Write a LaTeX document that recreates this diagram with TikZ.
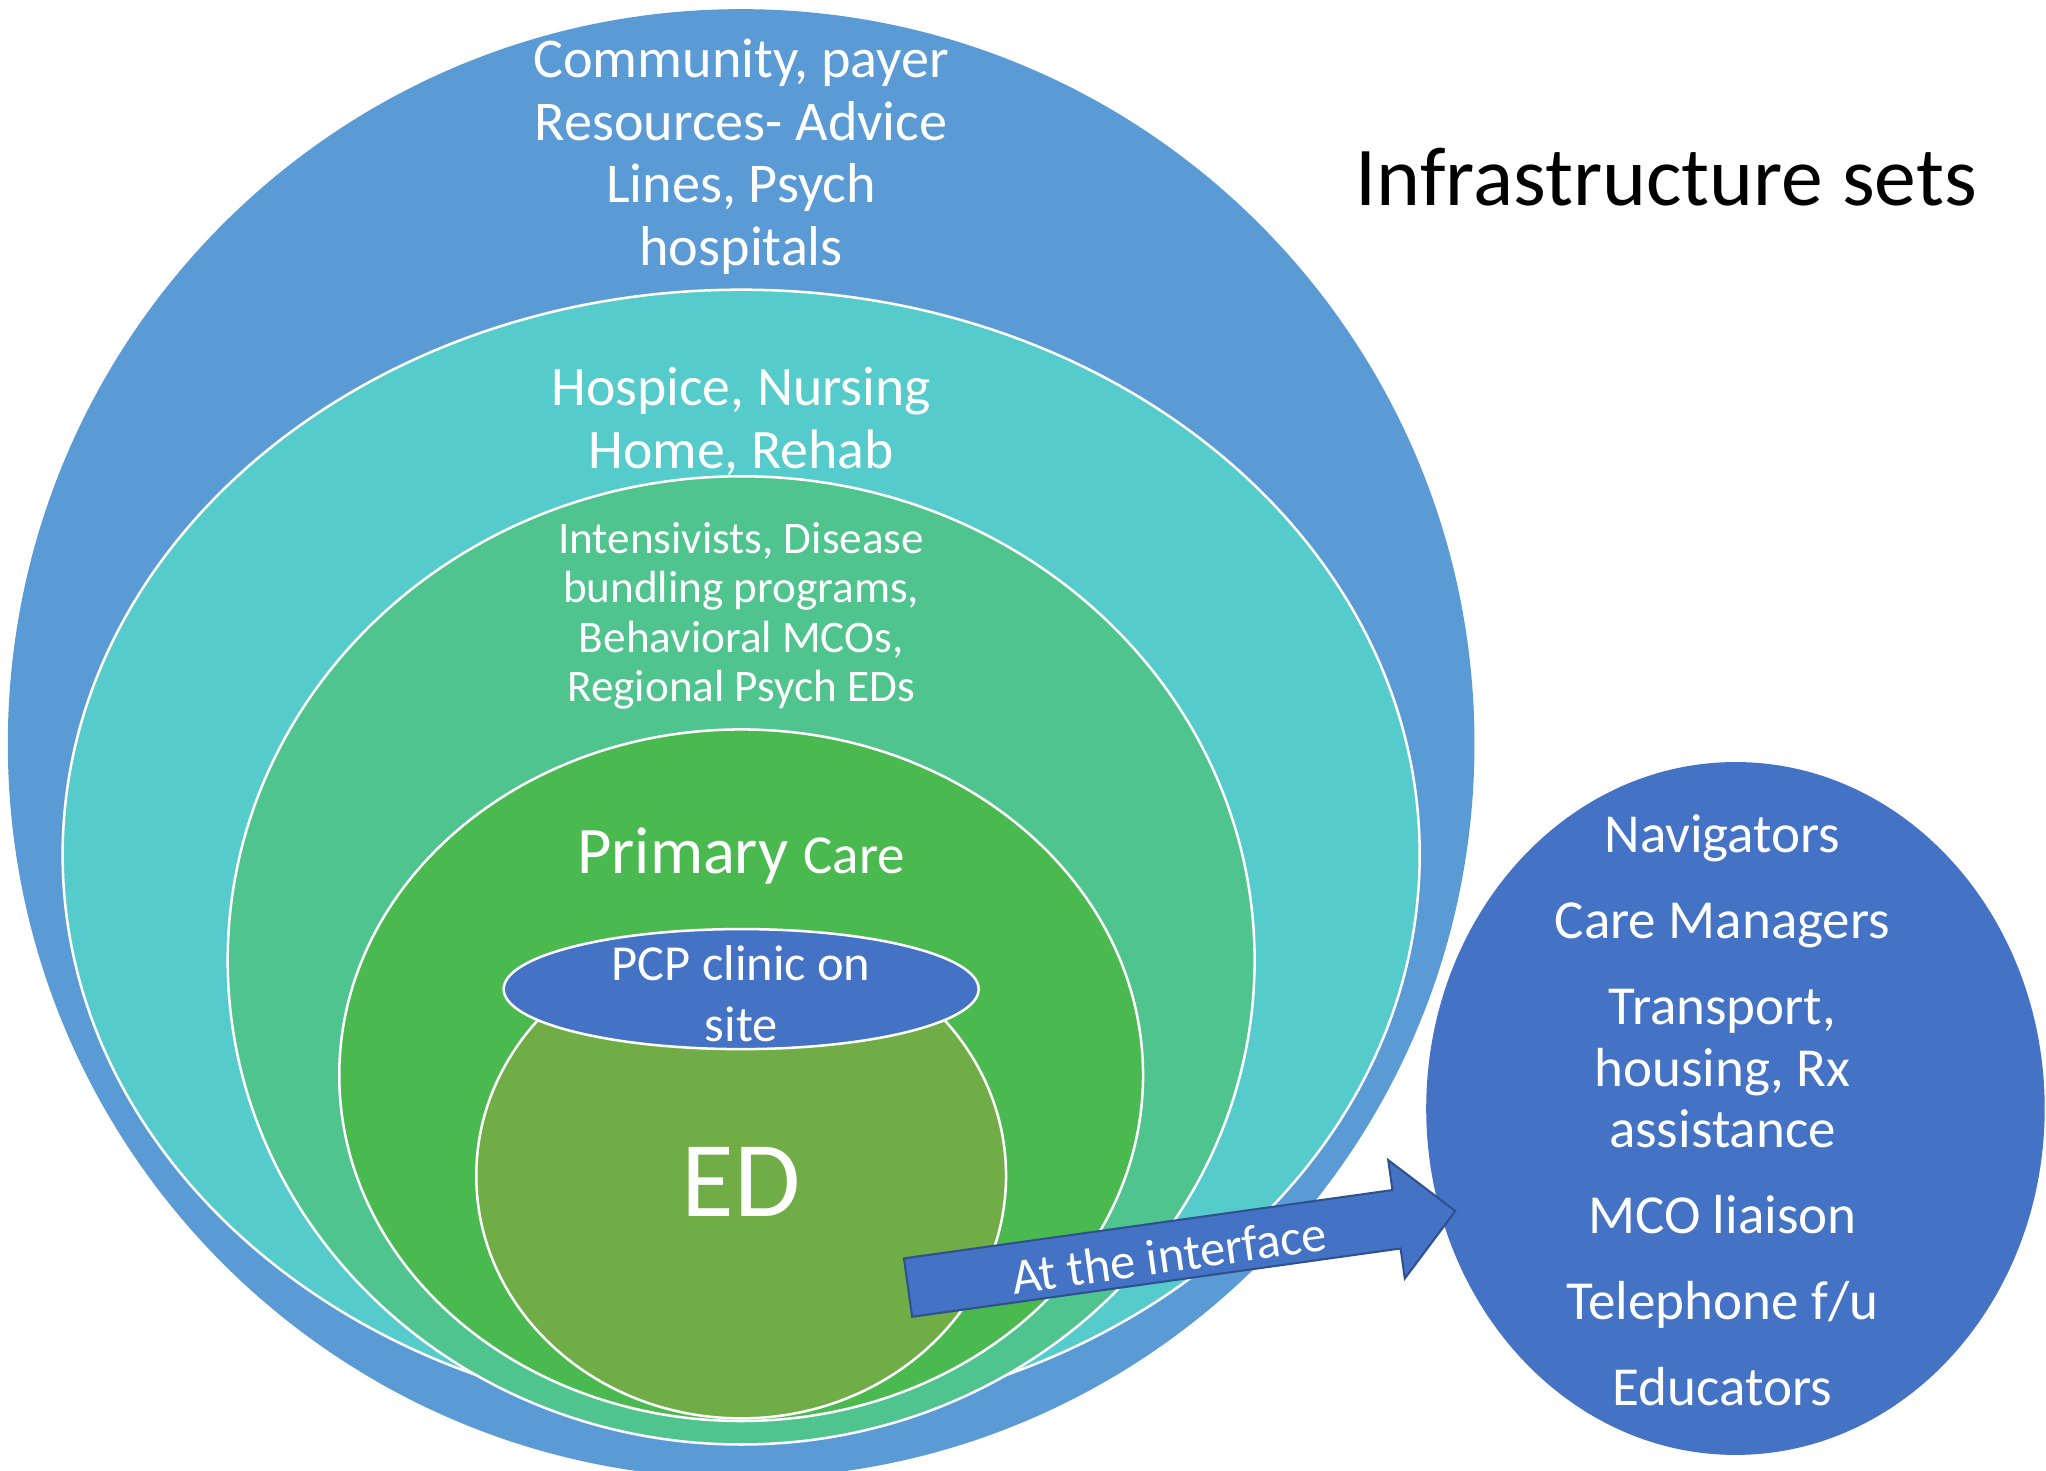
\documentclass[tikz,border=0pt]{standalone}
\usepackage{fontspec}
\setmainfont{Carlito}
\usepackage{tikz}

\definecolor{outerblue}{RGB}{91,155,213}
\definecolor{setcyan}{RGB}{85,203,204}
\definecolor{setteal}{RGB}{80,196,142}
\definecolor{setgreen}{RGB}{74,186,80}
\definecolor{setolive}{RGB}{112,173,71}
\definecolor{darkblue}{RGB}{68,114,196}
\definecolor{arrowedge}{RGB}{47,82,143}

\tikzset{
  setline/.style={draw=white, line width=1.1pt},
  settext/.style={text=white, align=center, inner sep=0pt},
  ifacearrow/.style={fill=darkblue, draw=arrowedge, line width=0.9pt, line join=miter},
}

\begin{document}
\begin{tikzpicture}[x=0.02cm,y=-0.02cm]

\useasboundingbox (0,0) rectangle (1568,1127);

% nested sets, outermost first
\fill[outerblue] (568,570) ellipse (562 and 563);
\fill[setcyan,setline] (568,655) ellipse (520 and 433);
\fill[setteal,setline] (568,736) ellipse (393.5 and 371);
\fill[setgreen,setline] (568,824) ellipse (308 and 265);
\fill[setolive,setline] (568,901) ellipse (203 and 186);
\fill[darkblue,setline] (568,758) ellipse (182 and 46);

% the set that sits beside
\fill[darkblue] (1330,849.5) ellipse (237 and 265.5);

\node[settext, font=\fontsize{24.5}{27.3}\selectfont] (community) at (568,120)
  {Community, payer\\Resources- Advice\\Lines, Psych\\hospitals};
\node[settext, font=\fontsize{24.3}{27.3}\selectfont] (hospice) at (568,323)
  {Hospice, Nursing\\Home, Rehab};
\node[settext, font=\fontsize{19.7}{21.6}\selectfont] (intens) at (568,472)
  {Intensivists, Disease\\bundling programs,\\Behavioral MCOs,\\Regional Psych EDs};
\node[settext] (primary) at (568,656)
  {\fontsize{29}{33}\selectfont Primary {\fontsize{24}{28}\selectfont Care}};
\node[settext, font=\fontsize{22}{26.7}\selectfont] (pcp) at (568,761.5)
  {PCP clinic on\\site};
\node[settext, font=\fontsize{47}{52}\selectfont] (ed) at (568,906) {ED};

\node[inner sep=0pt, font=\fontsize{36.5}{40}\selectfont] (title) at (1277,136)
  {Infrastructure sets};

\node[settext, font=\fontsize{24}{26.7}\selectfont] (extra) at (1320,851)
  {Navigators\\[10.9pt]Care Managers\\[10.9pt]Transport,\\housing, Rx\\assistance\\[10.9pt]MCO liaison\\[10.9pt]Telephone f/u\\[10.9pt]Educators};

% arrow out of the ED
\begin{scope}[shift={(695.9,986.75)}, rotate=7.96]
\draw[ifacearrow] (0,-22.6) -- (378,-22.6) -- (378,-45.8) -- (423.5,0)
  -- (378,45.8) -- (378,22.6) -- (0,22.6) -- cycle;
\node[settext, rotate=7.96, font=\fontsize{22}{26}\selectfont] (iface) at (201.5,3)
  {At the interface};
\end{scope}

\end{tikzpicture}
\end{document}
